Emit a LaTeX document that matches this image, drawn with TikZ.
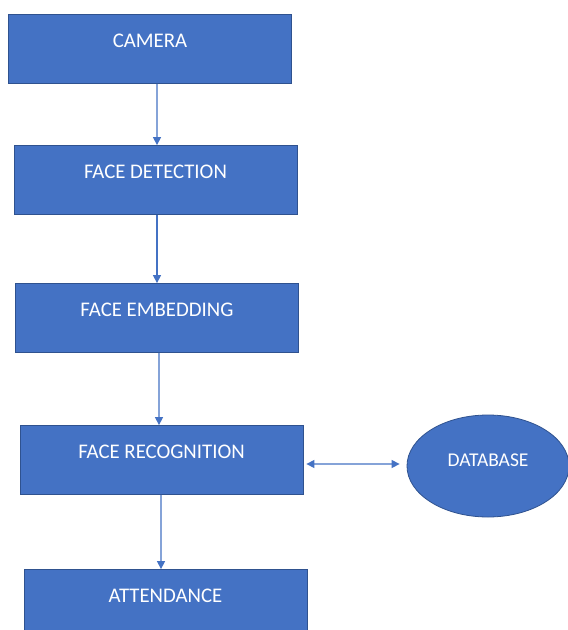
\documentclass[tikz,border=0pt]{standalone}
\usepackage{fontspec}
\setmainfont{Carlito}
\usetikzlibrary{arrows.meta,shapes.geometric}
\definecolor{boxblue}{HTML}{4472C4}
\definecolor{edgeblue}{HTML}{2F528F}
\tikzset{
  stepbox/.style={draw=edgeblue, line width=0.8bp, fill=boxblue, text=white,
    minimum width=283bp, minimum height=69bp, inner sep=0pt,
    font=\fontsize{20.8bp}{23bp}\selectfont, text height=13.5bp, text depth=17bp},
  dbshape/.style={ellipse, draw=edgeblue, line width=0.8bp, fill=boxblue, text=white,
    minimum width=162bp, minimum height=102bp, inner sep=0pt,
    font=\fontsize{19.5bp}{22bp}\selectfont, text height=12.5bp, text depth=12.5bp},
  flow/.style={draw=boxblue, line width=1.3bp, -{Triangle[width=8bp,length=8bp]}},
  flowboth/.style={draw=boxblue, line width=1.3bp, {Triangle[width=8bp,length=8bp]}-{Triangle[width=8bp,length=8bp]}}
}
\begin{document}
\begin{tikzpicture}[x=1bp,y=-1bp]
\useasboundingbox (0,0) rectangle (568,630);
\clip (0,0) rectangle (568,630);
\fill[white] (0,0) rectangle (568,630);
\node[stepbox] (cam) at (150,49) {CAMERA};
\node[stepbox] (fd) at (155.5,180) {FACE DETECTION};
\node[stepbox] (fe) at (157,318) {FACE EMBEDDING};
\node[stepbox] (fr) at (161.5,460) {FACE RECOGNITION};
\node[stepbox] (att) at (165.5,604) {ATTENDANCE};
\node[dbshape] (db) at (488,466) {DATABASE};
\draw[flow] ([xshift=7bp]cam.south) -- ([xshift=1.5bp]fd.north);
\draw[flow] ([xshift=1.5bp]fd.south) -- (fe.north);
\draw[flow] ([xshift=2bp]fe.south) -- ([xshift=-2.5bp]fr.north);
\draw[flow] ([xshift=-0.5bp]fr.south) -- ([xshift=-4.5bp]att.north);
\draw[flowboth] ([shift={(3bp,-4bp)}]fr.east) -- ([shift={(-7bp,2bp)}]db.west);
\end{tikzpicture}
\end{document}
